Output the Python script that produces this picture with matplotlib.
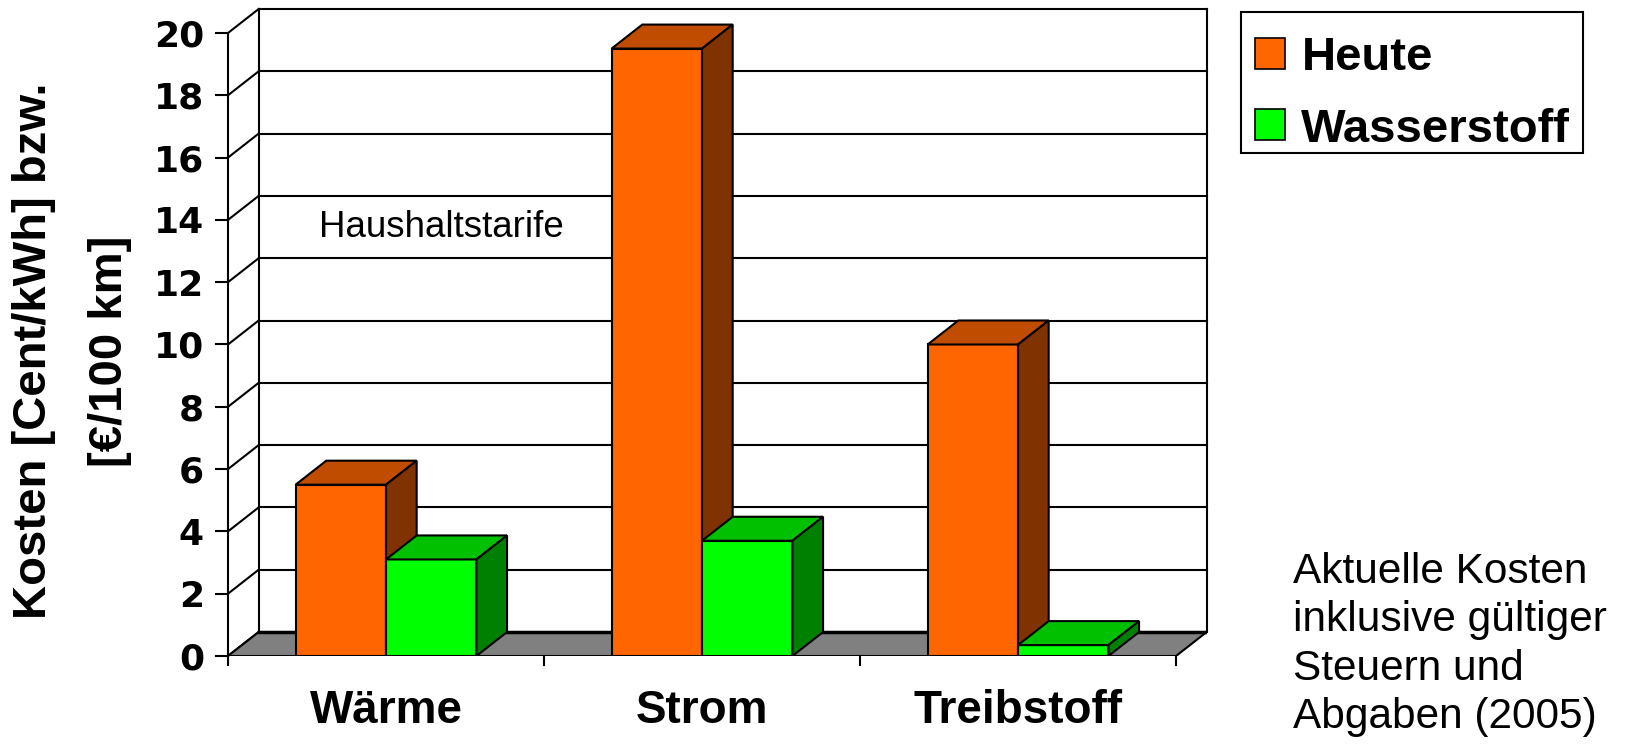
import numpy as np
import matplotlib.pyplot as plt
from matplotlib.patches import Polygon, Patch, Rectangle

categories = ['Wärme', 'Strom', 'Treibstoff']
heute = [5.5, 19.5, 10.0]
wasserstoff = [3.1, 3.7, 0.35]
yticks = np.arange(0, 21, 2)
note = ['Aktuelle Kosten', 'inklusive gültiger', 'Steuern und', 'Abgaben (2005)']

# depth of the fake 3d box in data units
DX = 0.097
DY = 0.77
BW = 0.286

plt.rcParams['font.family'] = ['Liberation Sans', 'DejaVu Sans']

fig = plt.figure(figsize=(16.26, 7.47), dpi=100)
W, H = 1626, 747
ax = fig.add_axes([228 / W, (H - 656) / H, (1206.7 - 228) / W, (656 - 9) / H])
ax.set_xlim(0, 3 + DX)
ax.set_ylim(0, 20 + DY)
ax.axis('off')

lc = dict(color='black', lw=1.5, clip_on=False, solid_capstyle='projecting')

# back wall + grid
for v in yticks[1:]:
    ax.plot([DX, 3 + DX], [v + DY, v + DY], zorder=1, **lc)
ax.plot([DX, DX], [DY, 20 + DY], zorder=1, **lc)
ax.plot([3 + DX, 3 + DX], [DY, 20 + DY], zorder=1, **lc)

# left side wall: front axis, ticks, diagonals
ax.plot([0, 0], [0, 20], zorder=1, **lc)
for v in yticks:
    ax.plot([0, DX], [v, v + DY], zorder=1, **lc)
    ax.plot([-0.038, 0], [v, v], zorder=1, **lc)
    ax.text(-0.076, v, str(v), ha='right', va='center_baseline',
            fontsize=26, fontweight='bold', family='DejaVu Sans')

# floor
floor = Polygon([(0, 0), (3, 0), (3 + DX, DY), (DX, DY)], closed=True,
                facecolor='#808080', edgecolor='black', lw=1.5, zorder=2)
ax.add_patch(floor)
ax.plot([DX, 3 + DX], [DY, DY], color='black', lw=2.5, zorder=2)
for i in range(4):
    ax.plot([i, i], [0, -0.3], zorder=2, **lc)


def box(x0, vals, front, top, side, z):
    ax.bar(x0, vals, BW, align='edge', color=front, edgecolor='black',
           lw=1.5, zorder=z)
    for x, v in zip(x0, vals):
        ax.add_patch(Polygon([(x, v), (x + BW, v), (x + BW + DX, v + DY), (x + DX, v + DY)],
                             facecolor=top, edgecolor='black', lw=1.5, zorder=z))
        ax.add_patch(Polygon([(x + BW, 0), (x + BW + DX, DY), (x + BW + DX, v + DY), (x + BW, v)],
                             facecolor=side, edgecolor='black', lw=1.5, zorder=z))


centers = np.arange(3) + 0.5
box(centers - BW, heute, '#FF6600', '#C04C00', '#803300', 3)
box(centers, wasserstoff, '#00FF00', '#00C000', '#008000', 4)

for c, name in zip(centers, categories):
    ax.text(c, -2.15, name, ha='center', va='baseline', fontsize=33, fontweight='bold')

ax.text(0.674, 13.74, 'Haushaltstarife', ha='center', va='center', fontsize=26.5)

fig.text(72 / W, 1 - 351 / H, 'Kosten [Cent/kWh] bzw.\n[€/100 km]', rotation=90,
         ha='center', va='center', multialignment='center', fontsize=34,
         fontweight='bold', linespacing=1.95)

# note at the lower right, one line at a time for even spacing
for i, line in enumerate(note):
    fig.text(1293 / W, 1 - (583 + 48.3 * i) / H, line,
             ha='left', va='baseline', fontsize=30.5)

# legend frame drawn separately so the entries can sit a bit lower
fig.add_artist(Rectangle((1241 / W, 1 - 153 / H), 342 / W, 141 / H,
                         transform=fig.transFigure, facecolor='white',
                         edgecolor='black', lw=1.5))
handles = [Patch(facecolor='#FF6600', edgecolor='black', lw=1.2),
           Patch(facecolor='#00FF00', edgecolor='black', lw=1.2)]
leg = fig.legend(handles, ['Heute', 'Wasserstoff'], loc='upper left',
                 bbox_to_anchor=(1241 / W, 1 - 21.5 / H),
                 prop=dict(size=34, weight='bold'), frameon=False,
                 handlelength=0.63, handleheight=0.63,
                 handletextpad=0.35, labelspacing=0.59, borderpad=0.3,
                 borderaxespad=0)

fig.savefig('out.png', dpi=100)
